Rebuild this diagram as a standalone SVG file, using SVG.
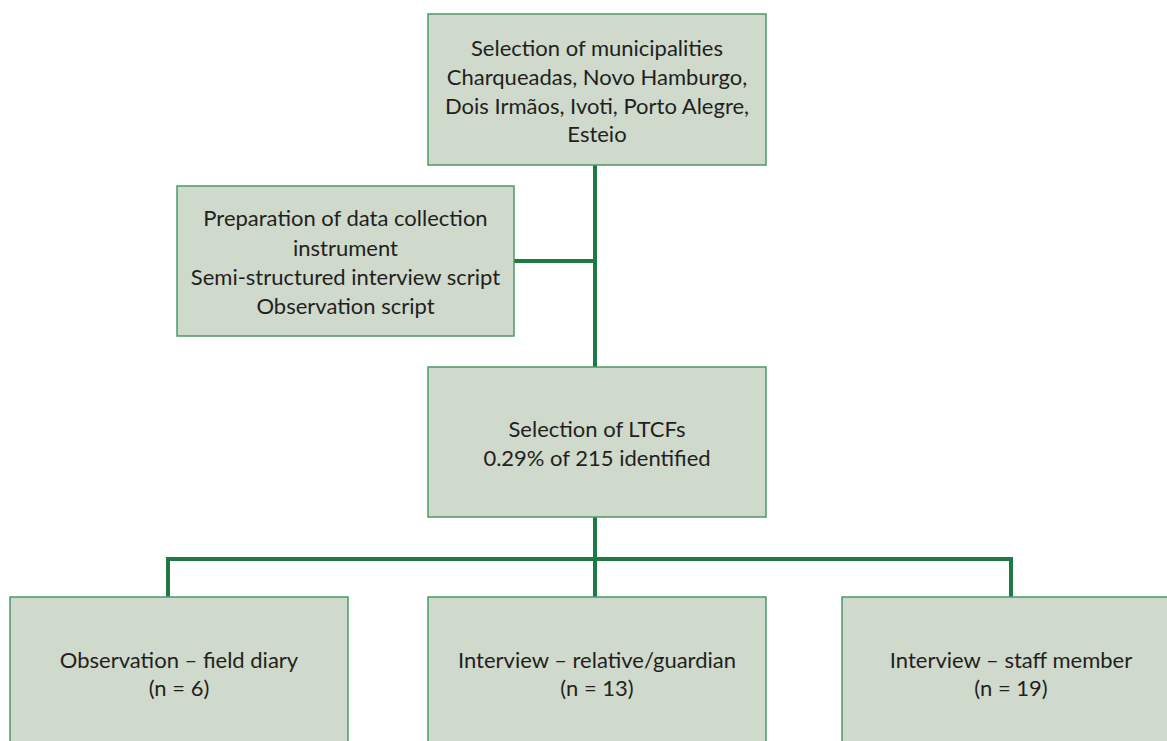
<svg xmlns="http://www.w3.org/2000/svg" width="1167" height="741" viewBox="0 0 1167 741">
<style>
.box{fill:#cfd9cc;stroke:#4a9a68;stroke-width:1.5}
.t{font-family:Lato,"Open Sans","Liberation Sans",sans-serif;font-size:22px;fill:#231f20;text-anchor:middle}
.c{stroke:#1d7a44;stroke-width:4;fill:none}
</style>
<rect width="1167" height="741" fill="#ffffff"/>
<g id="connectors">
<line class="c" x1="595" y1="165" x2="595" y2="367"/>
<line class="c" x1="514" y1="261" x2="595" y2="261"/>
<line class="c" x1="595" y1="517" x2="595" y2="597"/>
<polyline class="c" points="168,597 168,559 1011,559 1011,597"/>
</g>
<g id="n1">
<rect class="box" x="428" y="14" width="338" height="151"/>
<text class="t" x="597" y="56">Selection of municipalities</text>
<text class="t" x="597" y="85">Charqueadas, Novo Hamburgo,</text>
<text class="t" x="597" y="114">Dois Irmãos, Ivoti, Porto Alegre,</text>
<text class="t" x="597" y="142">Esteio</text>
</g>
<g id="n2">
<rect class="box" x="177" y="186" width="337" height="150"/>
<text class="t" x="345.5" y="226">Preparation of data collection</text>
<text class="t" x="345.5" y="256">instrument</text>
<text class="t" x="345.5" y="285">Semi-structured interview script</text>
<text class="t" x="345.5" y="314">Observation script</text>
</g>
<g id="n3">
<rect class="box" x="428" y="367" width="338" height="150"/>
<text class="t" x="597" y="437">Selection of LTCFs</text>
<text class="t" x="597" y="466">0.29% of 215 identified</text>
</g>
<g id="n4">
<rect class="box" x="10" y="597" width="338" height="160"/>
<text class="t" x="179" y="668">Observation – field diary</text>
<text class="t" x="179" y="696">(n = 6)</text>
</g>
<g id="n5">
<rect class="box" x="428" y="597" width="338" height="160"/>
<text class="t" x="597" y="668">Interview – relative/guardian</text>
<text class="t" x="597" y="696">(n = 13)</text>
</g>
<g id="n6">
<rect class="box" x="842" y="597" width="338" height="160"/>
<text class="t" x="1011" y="668">Interview – staff member</text>
<text class="t" x="1011" y="696">(n = 19)</text>
</g>
</svg>
